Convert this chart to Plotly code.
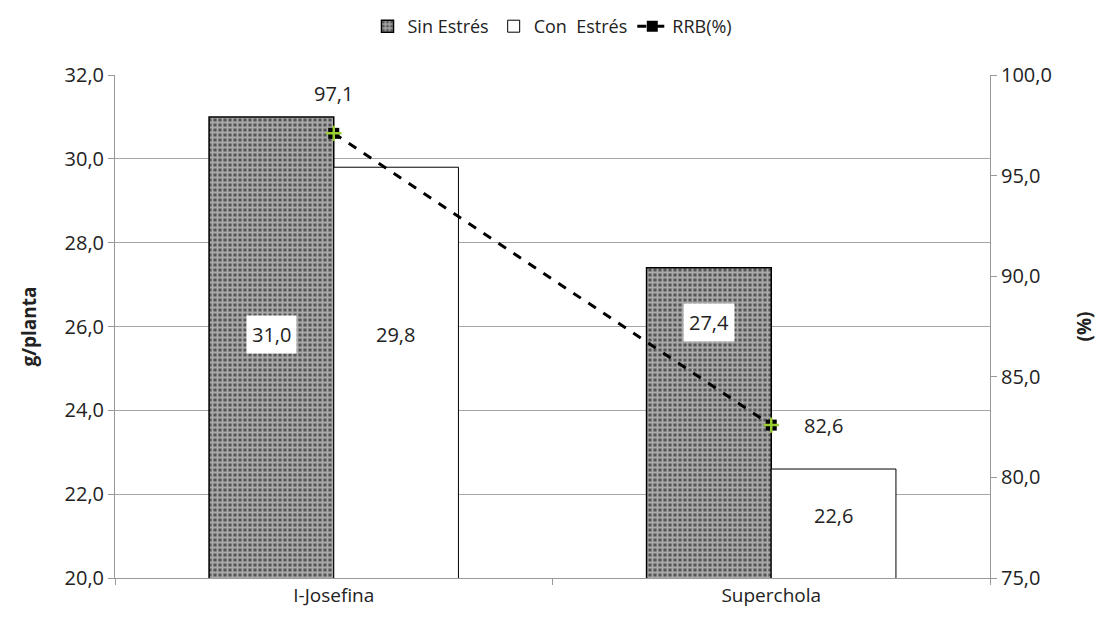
import plotly.graph_objects as go

categories = ["I-Josefina", "Superchola"]
sin_estres = [31.0, 27.4]
con_estres = [29.8, 22.6]
rrb = [97.1, 82.6]

FONT = "Open Sans"
fig = go.Figure()

fig.add_trace(go.Bar(
    x=categories, y=sin_estres, name="Sin Estrés",
    marker=dict(color="#5a5a5a", line=dict(color="black", width=1.5),
                pattern=dict(shape="+", fgcolor="#ffffff", bgcolor="#555555", size=5, solidity=0.6)),
    yaxis="y", offsetgroup="a"))
fig.add_trace(go.Bar(
    x=categories, y=con_estres, name="Con  Estrés",
    marker=dict(color="white", line=dict(color="black", width=1)),
    yaxis="y", offsetgroup="b"))
fig.add_trace(go.Scatter(
    x=categories, y=rrb, name="RRB(%)", yaxis="y2", mode="lines+markers",
    line=dict(color="black", width=3, dash="dash"),
    marker=dict(symbol="square", size=11, color="black")))
fig.add_trace(go.Scatter(
    x=categories, y=rrb, yaxis="y2", mode="markers", showlegend=False, hoverinfo="skip",
    marker=dict(symbol="cross-thin", size=11, line=dict(color="#9acd32", width=2.5))))

fmt = lambda v: f"{v:.1f}".replace(".", ",")
lab_y_sin = [25.8, 26.1]
lab_y_con = [25.8, 21.5]
for i, c in enumerate(categories):
    fig.add_annotation(x=c, y=lab_y_sin[i], xref="x", yref="y", text=fmt(sin_estres[i]),
                       xshift=-62, showarrow=False, bgcolor="white", borderpad=5,
                       font=dict(family=FONT, size=20, color="#222"))
    fig.add_annotation(x=c, y=lab_y_con[i], xref="x", yref="y", text=fmt(con_estres[i]),
                       xshift=62, showarrow=False,
                       font=dict(family=FONT, size=20, color="#222"))
fig.add_annotation(x=categories[0], y=rrb[0], xref="x", yref="y2", text=fmt(rrb[0]),
                   yshift=40, showarrow=False, font=dict(family=FONT, size=20, color="#222"))
fig.add_annotation(x=categories[1], y=rrb[1], xref="x", yref="y2", text=fmt(rrb[1]),
                   xshift=52, showarrow=False, font=dict(family=FONT, size=20, color="#222"))

fig.update_layout(
    width=1103, height=612,
    margin=dict(l=107, r=121, t=67, b=40),
    paper_bgcolor="white", plot_bgcolor="white",
    separators=",.",
    barmode="group", bargap=0.43, bargroupgap=0,
    font=dict(family=FONT, size=20, color="#222"),
    showlegend=True,
    legend=dict(orientation="h", x=0.5, xanchor="center", y=1.0, yref="container", yanchor="top",
                font=dict(family=FONT, size=18), traceorder="normal"),
    xaxis=dict(type="category", showline=True, linecolor="#999", ticks="outside", tickson="boundaries",
               tickcolor="#999", ticklen=6, showgrid=False, tickfont=dict(size=19)),
    yaxis=dict(range=[20, 32], dtick=2, tickformat=".1f", showgrid=True, gridcolor="#a6a6a6",
               showline=True, linecolor="#999", ticks="outside", tickcolor="#999", ticklen=6,
               tickfont=dict(size=20),
               title=dict(text="<b>g/planta</b>", font=dict(size=19), standoff=22), zeroline=False),
    yaxis2=dict(range=[75, 100], dtick=5, tickformat=".1f", overlaying="y", side="right",
                showgrid=False, showline=True, linecolor="#999", ticks="outside", tickcolor="#999",
                ticklen=6, tickfont=dict(size=20),
                title=dict(text="<b>(%)</b>", font=dict(size=19), standoff=26), zeroline=False),
)

fig.write_html("out.html")
